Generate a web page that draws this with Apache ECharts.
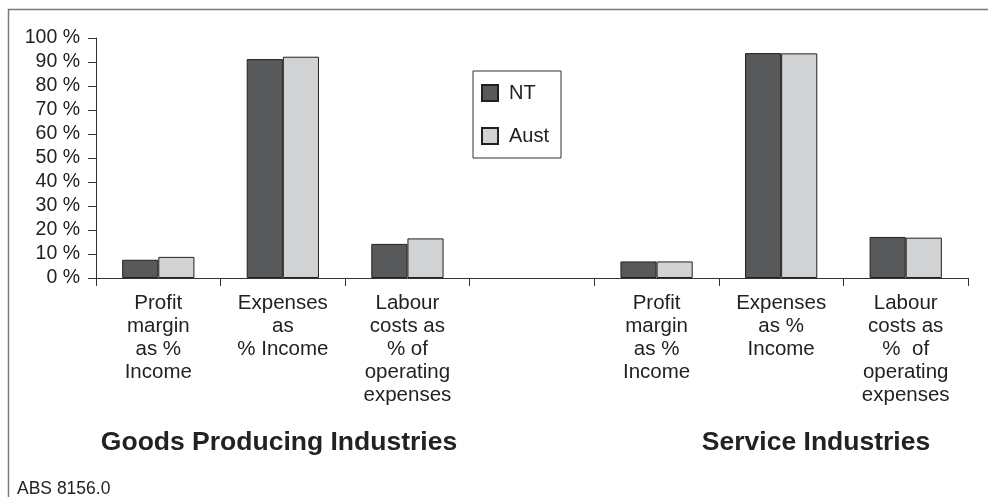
<!DOCTYPE html>
<html><head><meta charset="utf-8">
<script src="https://cdn.jsdelivr.net/npm/echarts@6/dist/echarts.min.js"></script>
<style>html,body{margin:0;padding:0;background:#fff}#c{width:988px;height:497px}</style>
</head><body><div id="c"></div>
<script>
const categories = ["G-Profit","G-Expenses","G-Labour","gap","S-Profit","S-Expenses","S-Labour"];
const categoryLabels = [
  "Profit\nmargin\nas %\nIncome",
  "Expenses\nas\n% Income",
  "Labour\ncosts as\n% of\noperating\nexpenses",
  "",
  "Profit\nmargin\nas %\nIncome",
  "Expenses\nas %\nIncome",
  "Labour\ncosts as\n%  of\noperating\nexpenses"
];
const ntValues   = [7.6, 91.2, 14.2, null, 6.9, 93.7, 17.1];
const austValues = [8.8, 92.2, 16.5, null, 6.9, 93.6, 16.8];
const seriesNames = ["NT","Aust"];
const groupTitles = ["Goods Producing Industries","Service Industries"];
const sourceNote = "ABS 8156.0";

const chart = echarts.init(document.getElementById('c'), null, {renderer:'canvas'});
const font = 'Liberation Sans, Arial, sans-serif';
chart.setOption({
  animation:false,
  backgroundColor:'#fff',
  grid:{left:96, right:20, top:38, bottom:219, containLabel:false},
  legend:{
    orient:'vertical', left:473, top:71,
    data:seriesNames,
    borderColor:'#333', borderWidth:1,
    padding:[12,12,12,8],
    itemWidth:16, itemHeight:16, itemGap:23,
    icon:'rect',
    textStyle:{fontFamily:font, fontSize:20, color:'#222', padding:[0,0,0,6]}
  },
  xAxis:{
    type:'category', data:categories,
    axisLine:{lineStyle:{color:'#333', width:1}},
    axisTick:{show:true, length:8, lineStyle:{color:'#333'}},
    axisLabel:{
      interval:0, margin:14, color:'#222', fontFamily:font, fontSize:20.5, lineHeight:23,
      align:'center',
      formatter:(v, i)=>categoryLabels[i]
    }
  },
  yAxis:{
    type:'value', min:0, max:100, interval:10,
    splitLine:{show:false},
    axisLine:{show:true, lineStyle:{color:'#333', width:1}},
    axisTick:{show:true, length:8, lineStyle:{color:'#333'}},
    axisLabel:{formatter:'{value} %', margin:16, color:'#222', fontFamily:font, fontSize:19.5}
  },
  series:[
    {name:seriesNames[0], type:'bar', data:ntValues, barGap:'0%', barCategoryGap:'42%',
     itemStyle:{color:'#58595b', borderColor:'#231f20', borderWidth:1}},
    {name:seriesNames[1], type:'bar', data:austValues, barGap:'0%', barCategoryGap:'42%',
     itemStyle:{color:'#d1d2d4', borderColor:'#231f20', borderWidth:1}}
  ],
  graphic:[
    {type:'rect', shape:{x:8.5, y:9.5, width:1000, height:500}, style:{fill:null, stroke:'#7a7a7a', lineWidth:1.5}, silent:true},
    {type:'text', x:279, y:443, style:{text:groupTitles[0], font:'bold 26.5px '+font, fill:'#222', textAlign:'center', textVerticalAlign:'middle'}},
    {type:'text', x:816, y:443, style:{text:groupTitles[1], font:'bold 26.5px '+font, fill:'#222', textAlign:'center', textVerticalAlign:'middle'}},
    {type:'text', x:17, y:489, style:{text:sourceNote, font:'17.5px '+font, fill:'#222', textAlign:'left', textVerticalAlign:'middle'}}
  ]
});
</script></body></html>
